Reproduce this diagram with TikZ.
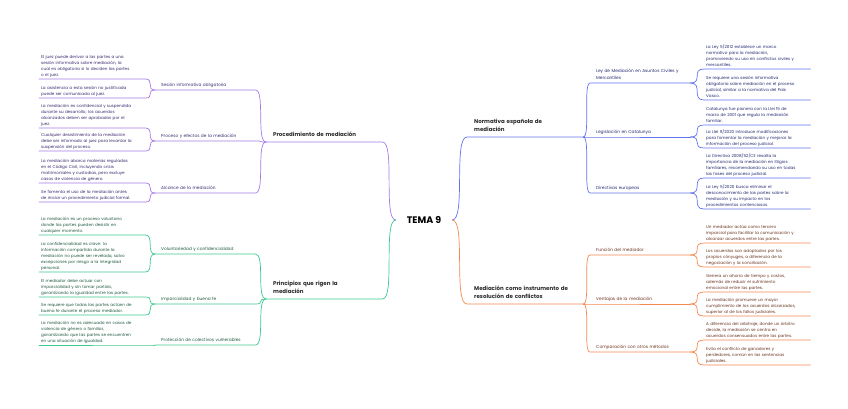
\documentclass[tikz,border=0pt]{standalone}
\usepackage{fontspec}
\setmainfont{Poppins}
\usepackage{xcolor}
\usepackage{tikz}
\usetikzlibrary{positioning}

\definecolor{lila}{HTML}{A57BEA}
\definecolor{lilatxt}{HTML}{3B2A70}
\definecolor{verde}{HTML}{3CC98D}
\definecolor{verdetxt}{HTML}{1F5B3F}
\definecolor{azul}{HTML}{6173F0}
\definecolor{azultxt}{HTML}{232D72}
\definecolor{naranja}{HTML}{F5894F}
\definecolor{naranjatxt}{HTML}{6B3420}
\definecolor{tinta}{HTML}{2B2B2B}

\begin{document}
\begin{tikzpicture}[x=1pt, y=-1pt, leaf/.style={anchor=south west,align=left,text width=102pt,inner xsep=2pt,inner ysep=1pt,text=#1,font=\fontsize{4.1}{6}\selectfont,execute at end node=\strut}, sub/.style={anchor=south west,align=left,text width=88pt,inner xsep=6pt,inner ysep=1.8pt,text=#1,font=\fontsize{4.3}{6.2}\selectfont,execute at end node=\strut}, rama/.style={anchor=south west,align=left,text width=102pt,inner xsep=7pt,inner ysep=3pt,text=tinta,font=\fontsize{5.5}{8}\selectfont\bfseries,execute at end node=\strut}, tema/.style={minimum width=56pt,inner xsep=0pt,text=black,font=\fontsize{9.5}{11}\selectfont\bfseries}, link/.style={line width=0.7pt,line cap=round}]
\useasboundingbox (0,0) rectangle (848,408);

\node[tema] (tema) at (424,220) {TEMA 9};

% ramas principales
\node[rama] (proc) at (266,142) {Procedimiento de mediación};
\node[rama] (prin) at (266,299) {Principios que rigen la\\mediación};
\node[rama] (norm) at (467,137) {Normativa española de\\mediación};
\node[rama] (medi) at (467,304) {Mediación como instrumento de\\resolución de conflictos};

% procedimiento
\node[sub=lilatxt] (ses) at (155,90) {Sesión informativa obligatoria};
\node[sub=lilatxt] (pro) at (155,141) {Proceso y efectos de la mediación};
\node[sub=lilatxt] (alc) at (155,193) {Alcance de la mediación};
\node[leaf=lilatxt] (l1) at (39,79) {El juez puede derivar a las partes a una\\sesión informativa sobre mediación, la\\cual es obligatoria si lo deciden las partes\\o el juez.};
\node[leaf=lilatxt] (l2) at (39,98) {La asistencia a esta sesión no justificada\\puede ser comunicada al juez.};
\node[leaf=lilatxt] (l3) at (39,128) {La mediación es confidencial y suspendida\\durante su desarrollo; los acuerdos\\alcanzados deben ser aprobados por el\\juez.};
\node[leaf=lilatxt] (l4) at (39,151) {Cualquier desistimiento de la mediación\\debe ser informado al juez para levantar la\\suspensión del proceso.};
\node[leaf=lilatxt] (l5) at (39,183) {La mediación abarca materias reguladas\\en el Código Civil, incluyendo crisis\\matrimoniales y custodias, pero excluye\\casos de violencia de género.};
\node[leaf=lilatxt] (l6) at (39,202) {Se fomenta el uso de la mediación antes\\de iniciar un procedimiento judicial formal.};

% principios
\node[sub=verdetxt] (vol) at (155,254) {Voluntariedad y confidencialidad};
\node[sub=verdetxt] (imp) at (155,304) {Imparcialidad y buena fe};
\node[sub=verdetxt] (pcv) at (155,345) {Protección de colectivos vulnerables};
\node[leaf=verdetxt] (g1) at (39,235) {La mediación es un proceso voluntario\\donde las partes pueden desistir en\\cualquier momento.};
\node[leaf=verdetxt] (g2) at (39,272) {La confidencialidad es clave: la\\información compartida durante la\\mediación no puede ser revelada, salvo\\excepciones por riesgo a la integridad\\personal.};
\node[leaf=verdetxt] (g3) at (39,297) {El mediador debe actuar con\\imparcialidad y sin tomar partido,\\garantizando la igualdad entre las partes.};
\node[leaf=verdetxt] (g4) at (39,315) {Se requiere que todas las partes actúen de\\buena fe durante el proceso mediador.};
\node[leaf=verdetxt] (g5) at (39,345) {La mediación no es adecuada en casos de\\violencia de género o familiar,\\garantizando que las partes se encuentren\\en una situación de igualdad.};

% normativa
\node[sub=azultxt] (ley) at (590,83) {Ley de Mediación en Asuntos Civiles y\\Mercantiles};
\node[sub=azultxt] (cat) at (590,137) {Legislación en Catalunya};
\node[sub=azultxt] (dir) at (590,193) {Directivas europeas};
\node[leaf=azultxt] (b1) at (704,69) {La Ley 5/2012 establece un marco\\normativo para la mediación,\\promoviendo su uso en conflictos civiles y\\mercantiles.};
\node[leaf=azultxt] (b2) at (704,100) {Se requiere una sesión informativa\\obligatoria sobre mediación en el proceso\\judicial, similar a la normativa del País\\Vasco.};
\node[leaf=azultxt] (b3) at (704,125) {Catalunya fue pionera con la Llei 15 de\\marzo de 2001 que regula la mediación\\familiar.};
\node[leaf=azultxt] (b4) at (704,148) {La Llei 9/2020 introduce modificaciones\\para fomentar la mediación y mejorar la\\información del proceso judicial.};
\node[leaf=azultxt] (b5) at (704,178) {La Directiva 2008/52/CE resalta la\\importancia de la mediación en litigios\\familiares, recomendando su uso en todas\\las fases del proceso judicial.};
\node[leaf=azultxt] (b6) at (704,209) {La Ley 5/2020 busca eliminar el\\desconocimiento de las partes sobre la\\mediación y su impacto en los\\procedimientos contenciosos.};

% mediacion como instrumento
\node[sub=naranjatxt] (fun) at (590,255) {Función del mediador};
\node[sub=naranjatxt] (ven) at (590,304) {Ventajas de la mediación};
\node[sub=naranjatxt] (com) at (590,352) {Comparación con otros métodos};
\node[leaf=naranjatxt] (o1) at (704,243) {Un mediador actúa como tercero\\imparcial para facilitar la comunicación y\\alcanzar acuerdos entre las partes.};
\node[leaf=naranjatxt] (o2) at (704,267) {Los acuerdos son adoptados por los\\propios cónyuges, a diferencia de la\\negociación y la conciliación.};
\node[leaf=naranjatxt] (o3) at (704,292) {Genera un ahorro de tiempo y costos,\\además de reducir el sufrimiento\\emocional entre las partes.};
\node[leaf=naranjatxt] (o4) at (704,316) {La mediación promueve un mayor\\cumplimiento de los acuerdos alcanzados,\\superior al de los fallos judiciales.};
\node[leaf=naranjatxt] (o5) at (704,340) {A diferencia del arbitraje, donde un árbitro\\decide, la mediación se centra en\\acuerdos consensuados entre las partes.};
\node[leaf=naranjatxt] (o6) at (704,365) {Evita el conflicto de ganadores y\\perdedores, común en las sentencias\\judiciales.};

% conectores (cada uno termina con el subrayado del nodo)
\foreach \n/\c in {proc/lila,prin/verde}
  \draw[link,\c] (tema.west) .. controls +(-13,0) and +(13,0) .. (\n.south east) -- (\n.south west);
\foreach \n/\c in {norm/azul,medi/naranja}
  \draw[link,\c] (tema.east) .. controls +(14,0) and +(-14,0) .. (\n.south west) -- (\n.south east);
\foreach \a/\b/\c in {proc/ses/lila,proc/pro/lila,proc/alc/lila,prin/vol/verde,prin/imp/verde,prin/pcv/verde}
  \draw[link,\c] (\a.south west) .. controls +(-10,0) and +(10,0) .. (\b.south east) -- (\b.south west);
\foreach \a/\b/\c in {ses/l1/lila,ses/l2/lila,pro/l3/lila,pro/l4/lila,alc/l5/lila,alc/l6/lila,vol/g1/verde,vol/g2/verde,imp/g3/verde,imp/g4/verde,pcv/g5/verde}
  \draw[link,\c] (\a.south west) .. controls +(-9,0) and +(9,0) .. (\b.south east) -- (\b.south west);
\foreach \a/\b/\c in {norm/ley/azul,norm/cat/azul,norm/dir/azul,medi/fun/naranja,medi/ven/naranja,medi/com/naranja}
  \draw[link,\c] (\a.south east) .. controls +(7,0) and +(-7,0) .. (\b.south west) -- (\b.south east);
\foreach \a/\b/\c in {ley/b1/azul,ley/b2/azul,cat/b3/azul,cat/b4/azul,dir/b5/azul,dir/b6/azul,fun/o1/naranja,fun/o2/naranja,ven/o3/naranja,ven/o4/naranja,com/o5/naranja,com/o6/naranja}
  \draw[link,\c] (\a.south east) .. controls +(13,0) and +(-13,0) .. (\b.south west) -- (\b.south east);
\end{tikzpicture}
\end{document}
